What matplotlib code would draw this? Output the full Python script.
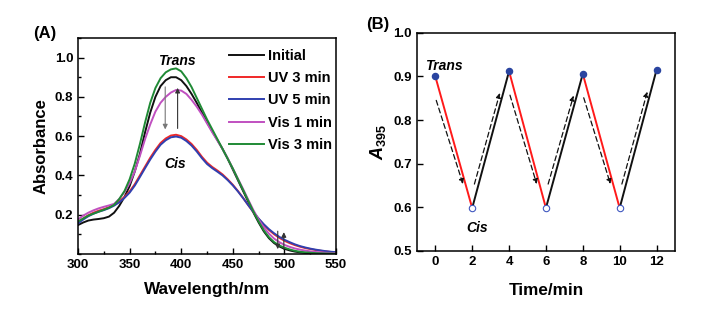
import numpy as np
import matplotlib
matplotlib.use('Agg')
import matplotlib.pyplot as plt
from matplotlib.ticker import MultipleLocator

plt.rcParams['font.family'] = ['Liberation Sans', 'DejaVu Sans']
plt.rcParams['font.weight'] = 'bold'
plt.rcParams['axes.labelweight'] = 'bold'
plt.rcParams['mathtext.fontset'] = 'custom'
plt.rcParams['mathtext.rm'] = 'Liberation Sans:bold'
plt.rcParams['mathtext.bf'] = 'Liberation Sans:bold'
plt.rcParams['mathtext.it'] = 'Liberation Sans:italic:bold'

# ---- panel A: spectra (every 5 nm, 300-550 nm) ----
wavelength = np.arange(300, 551, 5)

initial = [0.147, 0.160, 0.170, 0.175, 0.178, 0.182, 0.190, 0.210, 0.245, 0.290,
           0.345, 0.420, 0.510, 0.620, 0.720, 0.800, 0.855, 0.885, 0.900, 0.900,
           0.885, 0.855, 0.815, 0.770, 0.720, 0.670, 0.625, 0.580, 0.535, 0.485,
           0.430, 0.375, 0.320, 0.265, 0.210, 0.160, 0.115, 0.080, 0.055, 0.038,
           0.026, 0.018, 0.012, 0.008, 0.005, 0.004, 0.003, 0.002, 0.002, 0.001,
           0.001]
uv3 = [0.160, 0.180, 0.197, 0.210, 0.220, 0.228, 0.238, 0.250, 0.268, 0.290,
       0.318, 0.355, 0.400, 0.445, 0.490, 0.530, 0.565, 0.588, 0.603, 0.607,
       0.600, 0.583, 0.560, 0.530, 0.495, 0.465, 0.443, 0.425, 0.405, 0.380,
       0.352, 0.320, 0.285, 0.248, 0.212, 0.178, 0.148, 0.122, 0.100, 0.082,
       0.067, 0.055, 0.045, 0.037, 0.030, 0.025, 0.020, 0.016, 0.013, 0.010,
       0.008]
uv5 = [0.155, 0.175, 0.192, 0.205, 0.215, 0.223, 0.233, 0.246, 0.263, 0.285,
       0.312, 0.348, 0.392, 0.437, 0.481, 0.521, 0.556, 0.579, 0.594, 0.598,
       0.592, 0.575, 0.552, 0.522, 0.488, 0.458, 0.437, 0.419, 0.400, 0.376,
       0.349, 0.318, 0.284, 0.248, 0.213, 0.180, 0.151, 0.126, 0.105, 0.087,
       0.072, 0.060, 0.049, 0.040, 0.033, 0.027, 0.022, 0.018, 0.014, 0.011,
       0.009]
vis1 = [0.175, 0.195, 0.210, 0.222, 0.232, 0.240, 0.247, 0.255, 0.280, 0.315,
        0.360, 0.420, 0.500, 0.585, 0.660, 0.725, 0.770, 0.800, 0.822, 0.835,
        0.832, 0.815, 0.785, 0.750, 0.710, 0.665, 0.620, 0.578, 0.535, 0.487,
        0.435, 0.382, 0.330, 0.275, 0.222, 0.175, 0.135, 0.103, 0.078, 0.060,
        0.046, 0.036, 0.028, 0.022, 0.017, 0.013, 0.010, 0.008, 0.006, 0.005,
        0.004]
vis3 = [0.165, 0.180, 0.195, 0.205, 0.215, 0.225, 0.235, 0.250, 0.280, 0.320,
        0.380, 0.460, 0.560, 0.670, 0.770, 0.845, 0.895, 0.925, 0.940, 0.945,
        0.930, 0.895, 0.850, 0.795, 0.740, 0.685, 0.635, 0.585, 0.535, 0.485,
        0.435, 0.380, 0.325, 0.270, 0.215, 0.165, 0.120, 0.085, 0.060, 0.043,
        0.032, 0.023, 0.016, 0.011, 0.008, 0.006, 0.004, 0.003, 0.002, 0.002,
        0.001]

spectra = [initial, uv3, uv5, vis1, vis3]
labels = ['Initial', 'UV 3 min', 'UV 5 min', 'Vis 1 min', 'Vis 3 min']
colors = ['#111111', '#f02828', '#3040b0', '#c050c0', '#1f8a35']

# ---- panel B: cycling ----
time = [0, 2, 4, 6, 8, 10, 12]
a395 = [0.900, 0.598, 0.912, 0.598, 0.906, 0.598, 0.915]

fig = plt.figure(figsize=(7.09, 3.19), dpi=100)
axA = fig.add_axes([0.110, 0.204, 0.364, 0.677])
axB = fig.add_axes([0.588, 0.214, 0.364, 0.683])

for ax in (axA, axB):
    for s in ax.spines.values():
        s.set_linewidth(1.1)

# panel A
for y, lab, c in zip(spectra, labels, colors):
    axA.plot(wavelength, y, color=c, lw=1.4, label=lab)

axA.set_xlim(300, 550)
axA.set_ylim(0, 1.1)
axA.set_xticks([300, 350, 400, 450, 500, 550])
axA.set_yticks([0.2, 0.4, 0.6, 0.8, 1.0])
axA.xaxis.set_minor_locator(MultipleLocator(25))
axA.yaxis.set_minor_locator(MultipleLocator(0.1))
axA.tick_params(which='both', direction='in', labelsize=9.5, width=1)
axA.tick_params(which='major', length=4)
axA.tick_params(which='minor', length=2)
axA.set_xlabel('Wavelength/nm', fontsize=12.3, labelpad=8)
axA.set_ylabel('Absorbance', fontsize=12, labelpad=4)

axA.legend(loc='upper left', bbox_to_anchor=(0.585, 0.95), frameon=False,
           fontsize=10.5, handlelength=2.4, handletextpad=0.25,
           labelspacing=0.57, borderpad=0, borderaxespad=0)

axA.text(396, 0.985, 'Trans', style='italic', fontsize=10, ha='center', va='center')
axA.text(394, 0.458, 'Cis', style='italic', fontsize=10, ha='center', va='center')

arr = dict(arrowstyle='-|>', lw=0.8, mutation_scale=7)
axA.annotate('', xy=(384.5, 0.62), xytext=(384.5, 0.865),
             arrowprops=dict(arr, color='#777777'))
axA.annotate('', xy=(396.5, 0.86), xytext=(396.5, 0.625),
             arrowprops=dict(arr, color='#333333'))
axA.annotate('', xy=(493.5, 0.01), xytext=(493.5, 0.13),
             arrowprops=dict(arr, color='#333333'))
axA.annotate('', xy=(499.4, 0.125), xytext=(499.4, 0.01),
             arrowprops=dict(arr, color='#333333'))

fig.text(0.047, 0.895, '(A)', fontsize=12, ha='left', va='center')

# panel B
for i in range(len(time) - 1):
    c = '#ff1a1a' if a395[i + 1] < a395[i] else '#111111'
    axB.plot(time[i:i + 2], a395[i:i + 2], color=c, lw=1.4, zorder=2)
    # dashed arrows alongside each segment
    if a395[i + 1] < a395[i]:
        start = (time[i] + 0.05, a395[i] - 0.055)
        end = (time[i + 1] - 0.5, a395[i + 1] + 0.055)
    else:
        start = (time[i] + 0.12, a395[i] + 0.055)
        end = (time[i + 1] - 0.5, a395[i + 1] - 0.05)
    axB.annotate('', xy=end, xytext=start,
                 arrowprops=dict(arrowstyle='-|>', color='#111111', lw=0.9,
                                 linestyle=(0, (4, 2.5)), mutation_scale=7,
                                 shrinkA=0, shrinkB=0))

trans_t = time[0::2]
trans_v = a395[0::2]
cis_t = time[1::2]
cis_v = a395[1::2]
axB.plot(trans_t, trans_v, 'o', color='#2a44a0', ms=4.4, zorder=3)
axB.plot(cis_t, cis_v, 'o', mfc='white', mec='#4058c0', mew=0.8, ms=4.6, zorder=3)

axB.set_xlim(-1, 13)
axB.set_ylim(0.5, 1.0)
axB.set_xticks(range(0, 13, 2))
axB.set_yticks([0.5, 0.6, 0.7, 0.8, 0.9, 1.0])
axB.tick_params(direction='in', labelsize=9.5, width=1, length=4)
axB.set_xlabel('Time/min', fontsize=12.3, labelpad=11)
axB.set_ylabel(r'$\mathit{A}_{\mathbf{395}}$', fontsize=13, labelpad=4)

axB.text(0.45, 0.925, 'Trans', style='italic', fontsize=10, ha='center', va='center')
axB.text(2.25, 0.552, 'Cis', style='italic', fontsize=10, ha='center', va='center')

fig.text(0.517, 0.922, '(B)', fontsize=12, ha='left', va='center')

fig.savefig('out.png', dpi=100)
